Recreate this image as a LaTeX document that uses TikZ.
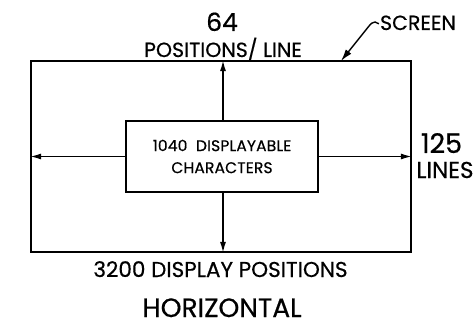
\documentclass[tikz,border=0pt]{standalone}
\usepackage{fontspec}
\setmainfont{Poppins}[FakeBold=0.5]
\usetikzlibrary{arrows.meta}
\begin{document}
\begin{tikzpicture}[x=1pt,y=-1pt,
  lbl/.style={inner sep=0pt,anchor=base},
  arr/.style={line width=1.5pt,-{Latex[length=11pt,width=6pt]}},
  frame/.style={draw,line width=1.7pt,inner sep=0pt}]
\useasboundingbox (0,0) rectangle (473,323);
% outer screen
\node[frame,minimum width=380pt,minimum height=191pt] (screen) at (221,156.5) {};
% inner box
\node[frame,fill=white,minimum width=192pt,minimum height=71pt,align=center,
      font=\fontsize{15.5}{22}\selectfont\addfontfeature{LetterSpace=1}] (inner) at (222,156.5)
  {1040\ \ DISPLAYABLE\\CHARACTERS};
\draw[arr] (inner.north -| 223,0) -- (screen.north -| 223,0);
\draw[arr] (inner.south -| 223,0) -- (screen.south -| 223,0);
\draw[arr] (inner.west) -- (screen.west);
\draw[arr] (inner.east) -- (screen.east);
% labels
\node[lbl,font=\fontsize{25}{25}\selectfont] (n64) at (222,31) {64};
\node[lbl,font=\fontsize{20.5}{20}\selectfont] (pos) at (223,57) {POSITIONS/ LINE};
\node[lbl,font=\fontsize{20.5}{20}\selectfont] (scr) at (418,30) {SCREEN};
\node[lbl,font=\fontsize{27}{25}\selectfont] (n125) at (441.5,153) {125};
\node[lbl,font=\fontsize{23}{20}\selectfont] (lines) at (445,178) {LINES};
\node[lbl,font=\fontsize{21.5}{20}\selectfont] (disp) at (220.5,277) {3200\ DISPLAY\ POSITIONS};
\node[lbl,font=\fontsize{26.5}{25}\selectfont] (hor) at (222,317) {HORIZONTAL};
% leader
\coordinate (tip) at (341,61);
\draw[line width=1.4pt,-{Latex[length=12pt,width=7pt]}]
  ([xshift=-1pt,yshift=-1pt]scr.west) -- (375,22) .. controls (372,22) and (371,24) .. (369,26) -- (tip);
\end{tikzpicture}
\end{document}
